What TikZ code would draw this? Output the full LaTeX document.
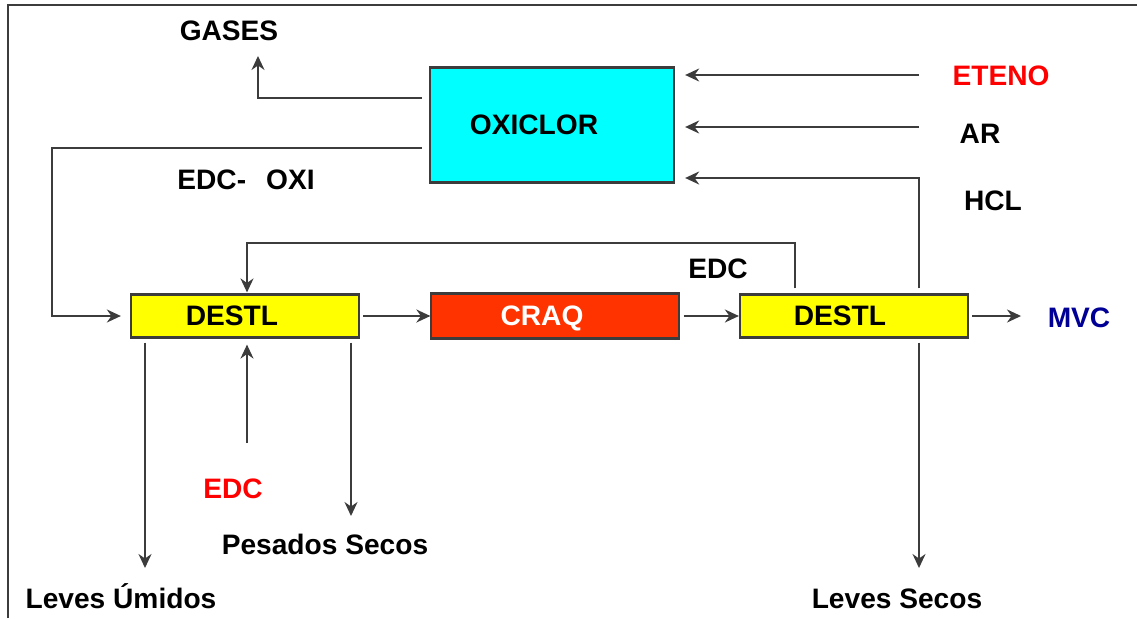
\documentclass[tikz,border=0pt]{standalone}
\usepackage{fontspec}
\setmainfont{Liberation Sans}
\usetikzlibrary{arrows.meta}
\definecolor{oxicyan}{RGB}{0,255,255}
\definecolor{destyellow}{RGB}{255,255,0}
\definecolor{craqred}{RGB}{255,51,0}
\definecolor{mvcblue}{RGB}{0,0,150}
\definecolor{linegray}{RGB}{60,60,60}

\begin{document}
\begin{tikzpicture}[x=0.01cm, y=-0.01cm, font=\fontsize{8}{9.6}\selectfont\bfseries,
	unit/.style={draw=linegray, line width=0.6pt, inner sep=0pt, text depth=0pt, execute at end node={\hspace{#1}}},
	unit/.default=2.6mm,
	flow/.style={draw=linegray, line width=0.55pt, -{Stealth[length=1.4mm,width=1.3mm]}},
	lbl/.style={anchor=base, inner sep=0pt}]
		%%%%% START %%%%%
		
		\useasboundingbox (0,0) rectangle (1137,618);
		\draw[line width=0.6pt, linegray] (8,618) -- (8,5) -- (1137,5);
		
		\node[unit=3.6mm, fill=oxicyan, minimum width=2.44cm, minimum height=1.15cm] (oxi) at (552,125) {OXICLOR};
		\node[unit, fill=destyellow, minimum width=2.28cm, minimum height=0.43cm] (d1) at (245,316) {DESTL};
		\node[unit, fill=craqred, text=white, minimum width=2.47cm, minimum height=0.45cm] (craq) at (555,316) {CRAQ};
		\node[unit=2.8mm, fill=destyellow, minimum width=2.28cm, minimum height=0.43cm] (d2) at (854,316) {DESTL};
		
		\node[lbl] (gases) at (229,41) {GASES};
		\node[lbl] (edcoxi) at (246,189) {EDC-\hspace{2mm}OXI};
		\node[lbl, text=red] (eteno) at (1001,85) {ETENO};
		\node[lbl] (ar) at (980,143) {AR};
		\node[lbl] (hcl) at (993,210) {HCL};
		\node[lbl] (edcrec) at (718,278) {EDC};
		\node[lbl, text=mvcblue] (mvc) at (1079,327) {MVC};
		\node[lbl, text=red] (edcred) at (233,498) {EDC};
		\node[lbl] (pesados) at (325,554) {Pesados Secos};
		\node[lbl] (leum) at (121,608) {Leves Úmidos};
		\node[lbl] (lesec) at (897,608) {Leves Secos};
		
		\coordinate (etenoin) at (919,75);
		\coordinate (arin) at (919,127);
		\coordinate (hclturn) at (919,178);
		\coordinate (leftturn) at (52,148);
		\coordinate (edcfeed) at (247,443);
		\coordinate (leumout) at (145,568);
		\coordinate (pesout) at (351,516);
		\coordinate (lesout) at (919,568);
		
		\draw[flow] ([shift={(-7,-27)}]oxi.west) -| ([shift={(29,14)}]gases.south);
		\draw[flow, shorten >=0.09cm] ([shift={(-7,23)}]oxi.west) -- (leftturn) |- (d1.west);
		\draw[flow, shorten >=0.1cm] (etenoin) -- (etenoin -| oxi.east);
		\draw[flow, shorten >=0.1cm] (arin) -- (arin -| oxi.east);
		\draw[flow, shorten >=0.1cm] ([shift={(65,-5)}]d2.north) -- (hclturn) -- (hclturn -| oxi.east);
		\draw[flow] ([shift={(-59,-5)}]d2.north) |- ([shift={(2,-50)}]d1.north) -- ([shift={(2,-1)}]d1.north);
		
		\draw[flow, shorten <=0.03cm] (d1.east) -- (craq.west);
		\draw[flow, shorten <=0.04cm] (craq.east) -- (d2.west);
		\draw[flow, shorten <=0.03cm, shorten >=0.26cm] (d2.east) -- (d2.east -| mvc.west);
		
		\draw[flow, shorten >=0.06cm] (edcfeed) -- (edcfeed |- d1.south);
		\draw[flow, shorten <=0.04cm] (leumout |- d1.south) -- (leumout);
		\draw[flow, shorten <=0.04cm] (pesout |- d1.south) -- (pesout);
		\draw[flow, shorten <=0.04cm] (lesout |- d2.south) -- (lesout);
		
		%%%%% END %%%%%
\end{tikzpicture}
\end{document}
